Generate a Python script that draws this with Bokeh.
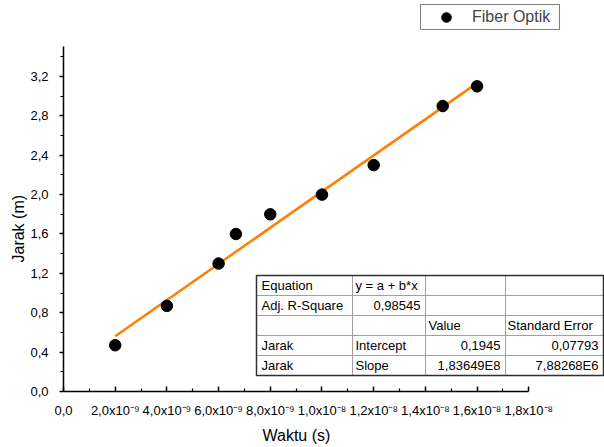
from bokeh.plotting import figure
from bokeh.models import (Range1d, FixedTicker, Legend, LegendItem, BoxAnnotation,
                          Label, Title, ColumnDataSource)
from bokeh.embed import file_html
from bokeh.resources import INLINE

# ---------------- data ----------------
waktu = [2.0e-9, 4.0e-9, 6.0e-9, 6.67e-9, 8.0e-9, 1.0e-8, 1.2e-8, 1.467e-8, 1.6e-8]
jarak = [0.47, 0.87, 1.30, 1.60, 1.80, 2.00, 2.30, 2.90, 3.10]
series_name = "Fiber Optik"

fit_intercept = 0.1945
fit_slope = 1.83649e8

x_ticks = [0.0, 2e-9, 4e-9, 6e-9, 8e-9, 1.0e-8, 1.2e-8, 1.4e-8, 1.6e-8, 1.8e-8]
x_tick_labels = ["0,0", "2,0x10\u207b\u2079", "4,0x10\u207b\u2079", "6,0x10\u207b\u2079",
                 "8,0x10\u207b\u2079", "1,0x10\u207b\u2078", "1,2x10\u207b\u2078",
                 "1,4x10\u207b\u2078", "1,6x10\u207b\u2078", "1,8x10\u207b\u2078"]
x_minor = [1e-9, 3e-9, 5e-9, 7e-9, 9e-9, 1.1e-8, 1.3e-8, 1.5e-8, 1.7e-8]

y_ticks = [0.0, 0.4, 0.8, 1.2, 1.6, 2.0, 2.4, 2.8, 3.2]
y_tick_labels = ["0,0", "0,4", "0,8", "1,2", "1,6", "2,0", "2,4", "2,8", "3,2"]
y_minor = [0.2, 0.6, 1.0, 1.4, 1.8, 2.2, 2.6, 3.0, 3.4]

x_title = "Waktu (s)"
y_title = "Jarak (m)"

table_rows = [
    ["Equation", "y = a + b*x", "", ""],
    ["Adj. R-Square", "0,98545", "", ""],
    ["", "", "Value", "Standard Error"],
    ["Jarak", "Intercept", "0,1945", "0,07793"],
    ["Jarak", "Slope", "1,83649E8", "7,88268E6"],
]
table_right_aligned = [(1, 1), (3, 2), (3, 3), (4, 2), (4, 3)]

# ---------------- figure ----------------
FONT = "Liberation Sans"

p = figure(width=604, height=447, output_backend="svg", toolbar_location=None,
           x_range=Range1d(0, 2.093e-8), y_range=Range1d(0, 3.972),
           min_border_left=63, min_border_right=0, min_border_top=0, min_border_bottom=56)
p.outline_line_color = None
p.xgrid.visible = False
p.ygrid.visible = False
p.background_fill_color = "white"
p.border_fill_color = "white"

src = ColumnDataSource(dict(waktu=waktu, jarak=jarak))

fit_x = [min(waktu), max(waktu)]
fit_y = [fit_intercept + fit_slope * v for v in fit_x]
p.line(fit_x, fit_y, line_color="#FF7F00", line_width=2.5)
sc = p.scatter(x="waktu", y="jarak", source=src, size=11.5, fill_color="black", line_color="black")

# axes
xa = p.xaxis[0]
xa.ticker = FixedTicker(ticks=x_ticks, minor_ticks=x_minor)
xa.major_label_overrides = {t: l for t, l in zip(x_ticks, x_tick_labels)}
xa.bounds = (x_ticks[0], x_ticks[-1])
xa.major_tick_in = 5
xa.major_tick_out = 0
xa.minor_tick_in = 3
xa.minor_tick_out = 0
xa.major_label_text_font = FONT
xa.major_label_text_font_size = "13px"
xa.major_label_standoff = 11

ya = p.yaxis[0]
ya.ticker = FixedTicker(ticks=y_ticks, minor_ticks=y_minor)
ya.major_label_overrides = {t: l for t, l in zip(y_ticks, y_tick_labels)}
ya.bounds = (0.0, 3.5)
ya.major_tick_in = 0
ya.major_tick_out = 4
ya.minor_tick_in = 0
ya.minor_tick_out = 3
ya.major_label_text_font = FONT
ya.major_label_text_font_size = "13px"
ya.major_label_standoff = 11

for ax in (xa, ya):
    ax.axis_line_width = 1.5
    ax.axis_line_color = "black"
    ax.major_tick_line_width = 1.5
    ax.minor_tick_line_width = 1.2
    ax.major_tick_line_color = "black"
    ax.minor_tick_line_color = "black"
    ax.major_label_text_color = "black"

# axis titles (positioned like the original, centred on the bounded axis lines)
p.add_layout(Title(text=x_title, align="left", offset=199, standoff=8,
                   text_font=FONT, text_font_size="16px", text_font_style="normal",
                   text_color="black"), "below")
p.add_layout(Title(text=y_title, align="left", offset=129, standoff=2,
                   text_font=FONT, text_font_size="16px", text_font_style="normal",
                   text_color="black"), "left")

# legend
legend = Legend(items=[LegendItem(label=series_name, renderers=[sc])],
                location=(357, 361), padding=0, glyph_height=24, glyph_width=50,
                label_standoff=1, label_width=87, label_height=22,
                label_text_font=FONT, label_text_font_size="16px",
                border_line_color="black", border_line_width=1,
                background_fill_color="white", background_fill_alpha=1.0)
p.add_layout(legend)

# statistics table (screen units relative to the plot frame)
col_x = [193, 289, 362, 442, 540]
row_y = [116, 96, 76, 56, 36, 16]
left_pad = [5, 3, 3, 2]
for r in range(len(table_rows)):
    for c in range(4):
        p.add_layout(BoxAnnotation(left=col_x[c], right=col_x[c + 1],
                                   top=row_y[r], bottom=row_y[r + 1],
                                   left_units="screen", right_units="screen",
                                   top_units="screen", bottom_units="screen",
                                   fill_color=None, line_color="#a0a0a0",
                                   line_alpha=1.0, line_width=1))
        txt = table_rows[r][c]
        if not txt:
            continue
        ym = (row_y[r] + row_y[r + 1]) / 2
        if (r, c) in table_right_aligned:
            lab = Label(x=col_x[c + 1] - 5, y=ym, text_align="right")
        else:
            lab = Label(x=col_x[c] + left_pad[c], y=ym, text_align="left")
        lab.update(text=txt, x_units="screen", y_units="screen", text_baseline="middle",
                   text_font=FONT, text_font_size="13px", text_color="black")
        p.add_layout(lab)

p.add_layout(BoxAnnotation(left=col_x[0], right=col_x[-1], top=row_y[0], bottom=row_y[-1],
                           left_units="screen", right_units="screen",
                           top_units="screen", bottom_units="screen",
                           fill_color=None, line_color="#303030", line_alpha=1.0,
                           line_width=1.5))

open("out.html", "w").write(file_html(p, INLINE))
